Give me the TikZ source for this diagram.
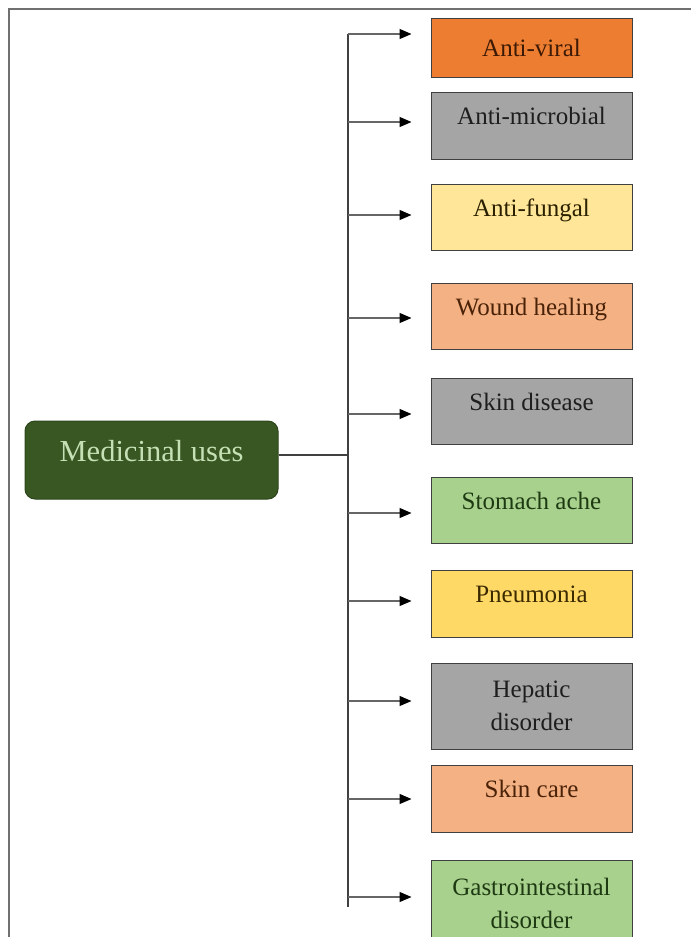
\documentclass[tikz,border=0pt]{standalone}
\usepackage{fontspec}
\setmainfont{Liberation Serif}
\usetikzlibrary{arrows.meta,positioning,calc}
\definecolor{frame}{HTML}{707070}
\definecolor{leaf}{HTML}{385723}
\definecolor{leaftext}{HTML}{C5E0B4}
\definecolor{vir}{HTML}{ED7D31}
\definecolor{grey}{HTML}{A5A5A5}
\definecolor{pale}{HTML}{FFE699}
\definecolor{peach}{HTML}{F4B183}
\definecolor{green}{HTML}{A9D18E}
\definecolor{gold}{HTML}{FFD966}
\definecolor{virtext}{HTML}{3D1A05}
\definecolor{greytext}{HTML}{1E1E1E}
\definecolor{paletext}{HTML}{2B2100}
\definecolor{peachtext}{HTML}{4A2208}
\definecolor{greentext}{HTML}{1E3A12}
\definecolor{goldtext}{HTML}{3B2A00}
\tikzset{
 rootbox/.style={fill=leaf,draw=leaf!80!black,line width=1pt,rounded corners=10pt,
  minimum width=253pt,minimum height=78pt,inner sep=0pt,text=leaftext,
  font=\fontsize{30.5}{33}\selectfont,text depth=18pt},
 usebox/.style={draw=black!75,line width=1pt,minimum width=201pt,inner sep=0pt,
  align=center,font=\fontsize{25}{33}\selectfont},
 oneline/.style={text depth=19pt},
 twoline/.style={},
 stem/.style={draw=black!75,line width=1.5pt},
 link/.style={draw=black!60,line width=1.2pt,-{Triangle[length=12pt,width=10pt,color=black]}}}

\begin{document}
\begin{tikzpicture}[x=1pt,y=-1pt]
\useasboundingbox (0,0) rectangle (691,937);
\draw[frame,line width=2pt] (9,937) -- (9,9) -- (691,9);
\node[rootbox] (med) at (151.5,460) {Medicinal uses};
\coordinate (trunk) at (348,34);
\coordinate (foot) at (348,907);
\draw[stem] (trunk) -- (foot);
\draw[stem] ([yshift=5pt]med.east) -- ([yshift=5pt]med.east -| trunk);
% name / centre y / height / lines / colour / arrow offset / text
\foreach \nm/\cy/\bh/\ln/\cl/\off/\lbl in {
 av/47.5/59/twoline/vir/13.5/Anti-viral,
 am/125.5/67/oneline/grey/3.5/Anti-microbial,
 af/217/66/oneline/pale/2/Anti-fungal,
 wh/316/66/oneline/peach/-2/Wound healing,
 sd/411/66/oneline/grey/-3/Skin disease,
 sa/510/66/oneline/green/-3/Stomach ache,
 pn/603.5/67/oneline/gold/2.5/Pneumonia,
 hd/706/86/twoline/grey/5/{Hepatic\\disorder},
 sc/798.5/67/oneline/peach/-0.5/Skin care,
 gi/903/86/twoline/green/6/{Gastrointestinal\\disorder}}{
 \node[usebox,\ln,fill=\cl,text=\cl text,minimum height=\bh pt] (\nm) at (531.5,\cy) {\lbl};
 \coordinate (\nm-in) at ([shift={(-19pt,\off pt)}]\nm.west);
 \draw[link] (\nm-in -| trunk) -- (\nm-in);
}
\end{tikzpicture}
\end{document}
